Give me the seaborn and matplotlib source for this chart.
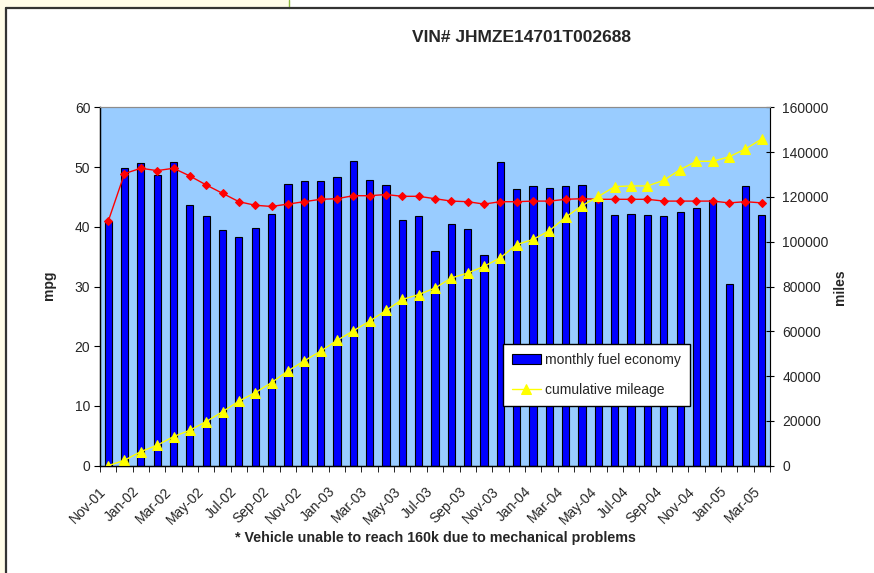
import numpy as np
import pandas as pd
import matplotlib
matplotlib.use("Agg")
import matplotlib.pyplot as plt
import matplotlib.transforms as mtransforms
import seaborn as sns
from matplotlib.patches import Rectangle
from matplotlib.lines import Line2D

# month labels Nov-01 .. Mar-05
months = pd.date_range("2001-11-01", periods=41, freq="MS").strftime("%b-%y").tolist()

# monthly fuel economy (mpg, bars)
mpg = [41.0, 49.9, 50.6, 48.6, 50.8, 43.6, 41.8, 39.4, 38.3, 39.8, 42.2, 47.2, 47.6, 47.6,
       48.3, 51.0, 47.9, 47.0, 41.1, 41.8, 35.9, 40.4, 39.7, 35.2, 50.8, 46.3, 46.8, 46.5,
       46.8, 47.0, 44.5, 42.0, 42.2, 42.0, 41.8, 42.5, 43.1, 44.5, 30.5, 46.8, 42.0]

# running average mpg (red line)
avg_mpg = [40.9, 48.9, 49.8, 49.4, 49.8, 48.5, 47.0, 45.6, 44.2, 43.6, 43.4, 43.8, 44.2, 44.6,
           44.7, 45.2, 45.2, 45.4, 45.1, 45.1, 44.7, 44.3, 44.2, 43.8, 44.2, 44.2, 44.3, 44.3,
           44.6, 44.7, 44.6, 44.6, 44.6, 44.6, 44.3, 44.3, 44.3, 44.3, 44.0, 44.2, 44.0]

# cumulative mileage (yellow line, right axis)
miles = [0, 2400, 6300, 9100, 13000, 15800, 19700, 24100, 28800, 32600, 37100, 42300, 46800, 51100,
         55900, 60200, 64500, 69300, 74200, 76400, 79300, 83800, 86000, 89000, 92800, 98700, 101000, 104900,
         111000, 116100, 120200, 124600, 124900, 124900, 127400, 132200, 135900, 135900, 137900, 141400, 145900]

df = pd.DataFrame({"month": months, "mpg": mpg, "avg": avg_mpg, "miles": miles})
df["pos"] = np.arange(len(df))

sns.set_style("white")
plt.rcParams["font.family"] = ["Liberation Sans", "DejaVu Sans"]

fig = plt.figure(figsize=(8.74, 5.73), dpi=100)
fig.patch.set_facecolor("white")

# page frame bits around the chart
fig.add_artist(Rectangle((0, 0), 0.0069, 1, transform=fig.transFigure, fc="#FFFCE8", ec="none"))
fig.add_artist(Rectangle((0, 0.9852), 0.3307, 0.0148, transform=fig.transFigure, fc="#FFFCE8", ec="none"))
fig.add_artist(Line2D([0.3307, 0.3307], [0.9852, 1], transform=fig.transFigure, color="#8DB83E", lw=1))
fig.add_artist(Line2D([0.0069, 1], [0.9852, 0.9852], transform=fig.transFigure, color="#333333", lw=1.6))
fig.add_artist(Line2D([0.0069, 0.0069], [0, 0.9852], transform=fig.transFigure, color="#333333", lw=1.6))

ax = fig.add_axes([0.1144, 0.1873, 0.7666, 0.6254])
ax.set_facecolor("#99CCFF")

sns.barplot(data=df, x="month", y="mpg", color="#0000FF", saturation=1, width=0.44,
            edgecolor="black", linewidth=0.8, ax=ax)
sns.lineplot(data=df, x="pos", y="avg", color="#FF0000", marker="D", markersize=4.5,
             markeredgecolor="#FF0000", linewidth=1, ax=ax)

ax2 = ax.twinx()
sns.lineplot(data=df, x="pos", y="miles", color="#FFFF00", marker="^", markersize=6.5,
             markeredgecolor="#FFFF00", linewidth=1, ax=ax2)

ax.set_xlim(-0.5, len(df) - 0.5)
ax2.set_xlim(-0.5, len(df) - 0.5)
ax.set_ylim(0, 60)
ax2.set_ylim(0, 160000)
ax.set_yticks(range(0, 61, 10))
ax2.set_yticks(range(0, 160001, 20000))
ax.set_xlabel("")
ax.set_ylabel("")
ax2.set_ylabel("")

ax.set_xticks(df["pos"][::2])
ax.set_xticklabels(df["month"][::2], rotation=45, ha="right", rotation_mode="anchor", fontsize=10)
ax.set_xticks(np.arange(-0.5, len(df), 1), minor=True)
ax.tick_params(axis="x", which="major", length=0, pad=15)
ax.tick_params(axis="x", which="minor", length=4, direction="out", color="black", bottom=True)
ax.tick_params(axis="y", length=4, direction="out", color="black", labelsize=10, pad=3, left=True)
ax2.tick_params(axis="y", length=6, direction="inout", color="black", labelsize=10, pad=6, right=True)

# nudge the slanted month labels a little left/up, like the original
shift = mtransforms.ScaledTranslation(-9 / 100, 2 / 100, fig.dpi_scale_trans)
for lab in ax.get_xticklabels():
    lab.set_transform(lab.get_transform() + shift)

for s in ["left", "bottom"]:
    ax.spines[s].set_color("black")
    ax.spines[s].set_linewidth(1)
ax.spines["top"].set_color("#8C8C8C")
ax.spines["right"].set_color("#8C8C8C")
ax2.spines["right"].set_color("black")
ax2.spines["top"].set_color("#8C8C8C")
ax2.spines["left"].set_color("black")
ax2.spines["bottom"].set_color("black")

bars = ax.containers[0]
yellow = ax2.lines[0]
leg = ax2.legend([bars, yellow], ["monthly fuel economy", "cumulative mileage"],
                 loc="lower left", bbox_to_anchor=(0.601, 0.167), frameon=True, fancybox=False,
                 framealpha=1, edgecolor="black", fontsize=10, labelspacing=1.15,
                 handlelength=2.1, handleheight=0.8, handletextpad=0.3, borderpad=0.65,
                 borderaxespad=0)
leg.get_frame().set_linewidth(1)

fig.text(0.597, 0.935, "VIN# JHMZE14701T002688", ha="center", va="center",
         fontsize=12.5, fontweight="bold")
fig.text(0.056, 0.502, "mpg", rotation=90, ha="center", va="center", fontsize=10, fontweight="bold")
fig.text(0.961, 0.499, "miles", rotation=90, ha="center", va="center", fontsize=10, fontweight="bold")
fig.text(0.4977, 0.061, "* Vehicle unable to reach 160k due to mechanical problems",
         ha="center", va="center", fontsize=10.3, fontweight="bold")

plt.savefig("out.png", dpi=100)
